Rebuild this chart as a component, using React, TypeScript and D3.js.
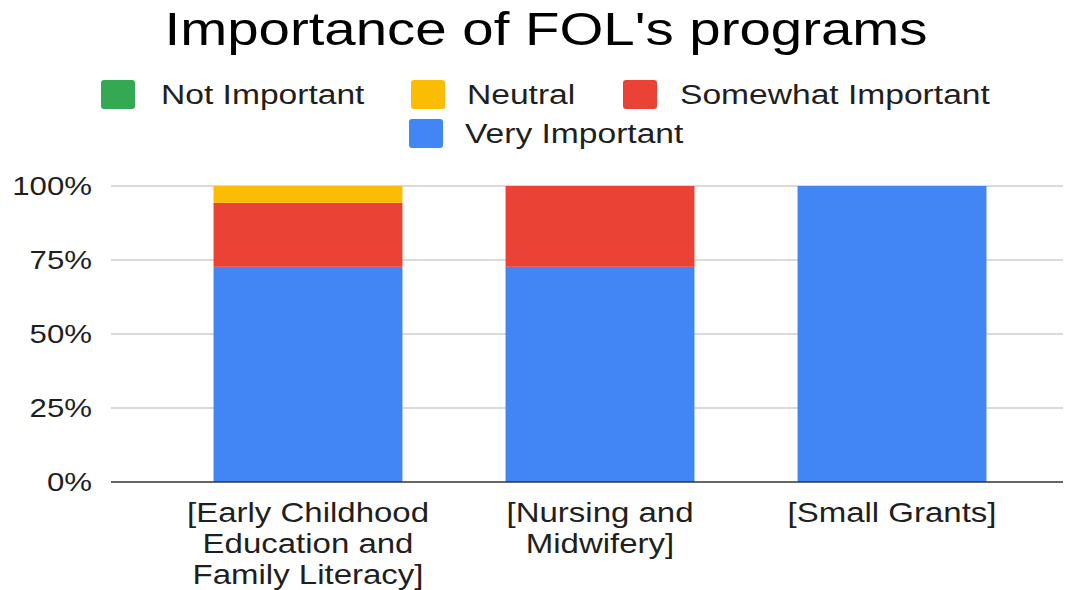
import { useEffect, useRef } from "react"
import * as d3 from "d3"

const categories = [
  ["[Early Childhood", "Education and", "Family Literacy]"],
  ["[Nursing and", "Midwifery]"],
  ["[Small Grants]"],
]
const seriesNames = ["Not Important", "Neutral", "Somewhat Important", "Very Important"]
const seriesColors = ["#34a853", "#fbbc04", "#ea4335", "#4285f4"]
// percent per category, order matches seriesNames
const notImportant = [0, 0, 0]
const neutral = [5.7, 0, 0]
const somewhatImportant = [21.6, 27.3, 0]
const veryImportant = [72.7, 72.7, 100]
const yTicks = [0, 25, 50, 75, 100]

const W = 1078
const H = 590
const plotLeft = 111
const plotRight = 1063
const margin = { top: 186, bottom: 108 }
// the source image text is stretched horizontally
const stretch = 1.2

export default function App() {
  const svgRef = useRef<SVGSVGElement>(null)

  useEffect(() => {
    const svg = d3.select(svgRef.current)
    svg.selectAll("*").remove()
    svg.attr("font-family", "'Liberation Sans', Arial, sans-serif")

    const addText = (g: any, x: number, y: number, str: string, size: number, anchor: string, dy = "0") =>
      g.append("text")
        .attr("transform", `translate(${x},${y}) scale(${stretch},1)`)
        .attr("text-anchor", anchor)
        .attr("dy", dy)
        .attr("font-size", size)
        .attr("fill", "#1f1f1f")
        .text(str)

    const rows = categories.map((c, i) => ({
      key: String(i),
      "Not Important": notImportant[i],
      Neutral: neutral[i],
      "Somewhat Important": somewhatImportant[i],
      "Very Important": veryImportant[i],
    }))

    const x = d3.scaleBand()
      .domain(rows.map(r => r.key))
      .range([124, 1076])
      .paddingInner(0.353)
      .paddingOuter(0.3066)

    const y = d3.scaleLinear()
      .domain([0, 100])
      .range([H - margin.bottom, margin.top])

    // title
    addText(svg, 546, 45, "Importance of FOL's programs", 47, "middle").attr("fill", "#000")

    // legend
    const legendPos = [
      { x: 101, y: 80, tx: 161 },
      { x: 411, y: 80, tx: 467 },
      { x: 623, y: 80, tx: 680 },
      { x: 409, y: 119, tx: 465 },
    ]
    const legend = svg.append("g")
    seriesNames.forEach((name, i) => {
      const p = legendPos[i]
      legend.append("rect")
        .attr("x", p.x).attr("y", p.y)
        .attr("width", 34).attr("height", 29)
        .attr("rx", 3)
        .attr("fill", seriesColors[i])
      addText(legend, p.tx, p.y + 14.5, name, 28, "start", "0.35em")
    })

    // gridlines
    svg.append("g")
      .selectAll("line")
      .data(yTicks.filter(t => t > 0))
      .join("line")
        .attr("x1", plotLeft).attr("x2", plotRight)
        .attr("y1", d => y(d)).attr("y2", d => y(d))
        .attr("stroke", "#cccccc")
        .attr("stroke-width", 1.5)

    // y labels
    const yl = svg.append("g")
    yTicks.forEach(t => addText(yl, 92, y(t), `${t}%`, 26, "end", "0.35em"))

    // stacked bars
    const stack = d3.stack<any>().keys([...seriesNames].reverse())
    const layers = stack(rows)
    svg.append("g")
      .selectAll("g")
      .data(layers)
      .join("g")
        .attr("fill", d => seriesColors[seriesNames.indexOf(d.key)])
      .selectAll("rect")
      .data(d => d)
      .join("rect")
        .attr("x", d => x(d.data.key)!)
        .attr("width", x.bandwidth())
        .attr("y", d => y(d[1]))
        .attr("height", d => y(d[0]) - y(d[1]))

    // baseline
    svg.append("line")
      .attr("x1", plotLeft).attr("x2", plotRight)
      .attr("y1", y(0)).attr("y2", y(0))
      .attr("stroke", "#333")
      .attr("stroke-width", 1.5)

    // category labels
    const cat = svg.append("g")
    categories.forEach((lines, i) => {
      const cx = x(String(i))! + x.bandwidth() / 2
      lines.forEach((line, j) => addText(cat, cx, 522 + j * 31, line, 27.5, "middle"))
    })
  }, [])

  return (
    <svg ref={svgRef} width={W} height={H} style={{ display: "block", position: "absolute", left: 0, top: 0 }} />
  )
}
